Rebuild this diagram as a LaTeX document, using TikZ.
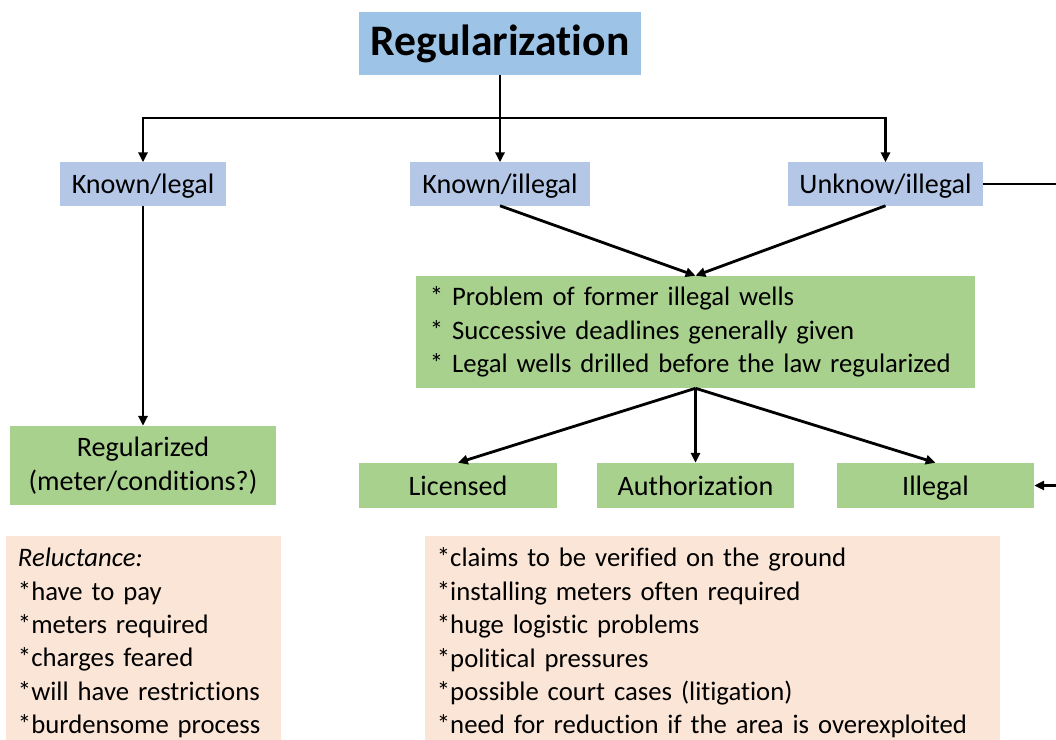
\documentclass[tikz,border=0pt]{standalone}
\usepackage{fontspec}
\setmainfont{Carlito}[Ligatures=NoCommon]
\usetikzlibrary{arrows.meta}
\definecolor{headblue}{HTML}{9DC3E6}
\definecolor{catblue}{HTML}{B4C7E7}
\definecolor{resgreen}{HTML}{A9D18E}
\definecolor{notepink}{HTML}{FBE5D6}

\begin{document}
\begin{tikzpicture}[x=0.025cm, y=-0.025cm,
	every node/.style={inner sep=0pt, font=\fontsize{20}{23.75}\selectfont},
	head/.style={fill=headblue, minimum width=7.05cm, minimum height=1.575cm, font=\fontsize{31}{37}\selectfont\bfseries},
	single/.style={text height=14pt, text depth=0pt},
	cat/.style={fill=catblue, minimum height=1.075cm, single},
	res/.style={fill=resgreen, minimum height=1.125cm},
	list/.style={align=left, font=\fontsize{19}{23.75}\selectfont},
	note/.style={fill=notepink, minimum height=5.325cm, list, inner xsep=0.3cm},
	arr/.style={-{Triangle[length=7pt, width=6.5pt]}, line width=2pt}]
	%\draw[help lines] (0,0) grid[step=100] (1056,740);
	\useasboundingbox (0,0) rectangle (1056,740);
	
	\node [head] (reg) at (500, 43.5) {Regularization};
	
	\node [cat, minimum width=4.125cm] (klegal) at (143, 184) {Known/legal};
	\node [cat, minimum width=4.475cm] (kill) at (500, 184) {Known/illegal};
	\node [cat, minimum width=4.875cm] (uill) at (885.5, 184) {Unknow/illegal};
	
	\node [res, list, minimum height=2.8cm, text width=13.275cm, inner xsep=0.35cm] (mid) at (695.5, 332)
		{* Problem of former illegal wells\\{}* Successive deadlines generally given\\{}* Legal wells drilled before the law regularized};
	
	\node [res, minimum width=6.625cm, minimum height=1.975cm, align=center] (regd) at (143, 465.5) {Regularized\\(meter/conditions?)};
	\node [res, single, minimum width=4.95cm] (lic) at (458, 485.5) {Licensed};
	\node [res, single, minimum width=4.925cm] (auth) at (695.5, 485.5) {Authorization};
	\node [res, single, minimum width=4.925cm] (ill) at (935.5, 485.5) {Illegal};
	
	\node [note, text width=6.275cm] (whyl) at (143.5, 643)
		{\textit{Reluctance:}\\{}*have to pay\\{}*meters required\\{}*charges feared\\{}*will have restrictions\\{}*burdensome process};
	\node [note, text width=13.775cm] (whyr) at (712.5, 643)
		{*claims to be verified on the ground\\{}*installing meters often required\\{}*huge logistic problems\\{}*political pressures\\{}*possible court cases (litigation)\\{}*need for reduction if the area is overexploited};
	
	\coordinate (split) at (500, 118);
	\coordinate (edge) at (1070, 184);
	
	\draw [arr] (reg.south) -- (kill.north);
	\draw [arr] (split) -| (klegal.north);
	\draw [arr] (split) -| (uill.north);
	\draw [arr] (klegal.south) -- (regd.north);
	\draw [arr] (kill.south) -- (mid.north);
	\draw [arr] (uill.south) -- (mid.north);
	\draw [arr] (mid.south) -- (lic.north);
	\draw [arr] (mid.south) -- (auth.north);
	\draw [arr] (mid.south) -- (ill.north);
	\draw [arr] (uill.east) -- (edge) |- (ill.east);
	
\end{tikzpicture}
\end{document}
